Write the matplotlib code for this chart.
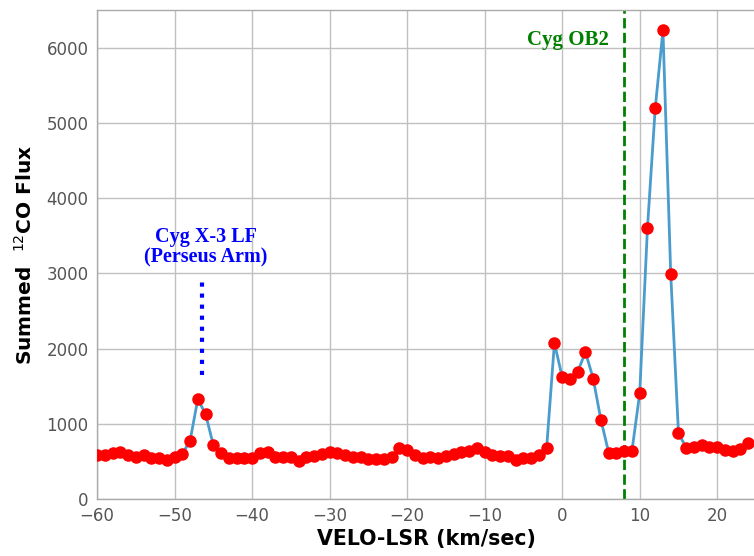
import matplotlib
matplotlib.use("Agg")
import matplotlib.pyplot as plt
import numpy as np

# LSR velocity channels (km/s) and summed 12CO flux per channel
velo = np.arange(-60, 25)
flux = [585, 585, 616, 630, 585, 554, 585, 541, 541, 519,
        554, 599, 772, 1326, 1131, 718, 616, 541, 541, 541,
        541, 608, 630, 563, 563, 563, 505, 554, 572, 599,
        630, 616, 585, 563, 554, 532, 532, 532, 563, 683,
        652, 585, 541, 563, 541, 572, 599, 630, 643, 674,
        630, 585, 572, 572, 519, 550, 550, 585, 683, 2075,
        1620, 1600, 1690, 1955, 1600, 1050, 616, 616, 638, 638,
        1406, 3601, 5192, 6230, 2993, 874, 683, 696, 718, 696,
        696, 652, 638, 665, 749]

cyg_x3_v = -46.5
cyg_x3_range = [1650, 2900]
cyg_ob2_v = 8.0

fig = plt.figure(figsize=(7.54, 5.56), dpi=100)
ax = fig.add_axes([97 / 754, 57 / 556, 659 / 754, 489 / 556])

ax.plot(velo, flux, '-', color='#4a9ccc', lw=2, zorder=3)
ax.plot(velo, flux, 'o', color='red', ms=8, zorder=4)

ax.plot([cyg_x3_v, cyg_x3_v], cyg_x3_range, ':', color='blue', lw=3, zorder=2)
ax.text(cyg_x3_v + 0.5, 3080, 'Cyg X-3 LF\n(Perseus Arm)', color='blue',
        family='Liberation Serif', fontweight='bold', fontsize=14.5,
        ha='center', va='bottom', linespacing=1.05)

ax.axvline(cyg_ob2_v, color='green', ls='--', lw=2, zorder=2)
ax.text(cyg_ob2_v - 2.0, 6100, 'Cyg OB2', color='green',
        family='Liberation Serif', fontweight='bold', fontsize=15,
        ha='right', va='center')

ax.set_xlim(-60, 25)
ax.set_ylim(0, 6500)
ax.set_xticks(np.arange(-60, 25, 10))
ax.set_yticks(np.arange(0, 6001, 1000))
ax.grid(True, color='#c0c0c0', lw=1)
ax.set_axisbelow(True)
ax.tick_params(length=0, labelsize=12, labelcolor='#555555', pad=6)
for s in ax.spines.values():
    s.set_color('#aaaaaa')
    s.set_linewidth(1)

ax.set_xlabel('VELO-LSR (km/sec)', fontsize=14.8, fontweight='bold', labelpad=3)
ax.set_ylabel('Summed  $^{12}$CO Flux', fontsize=14.5, fontweight='bold', labelpad=8)

fig.savefig('out.png', dpi=100)
